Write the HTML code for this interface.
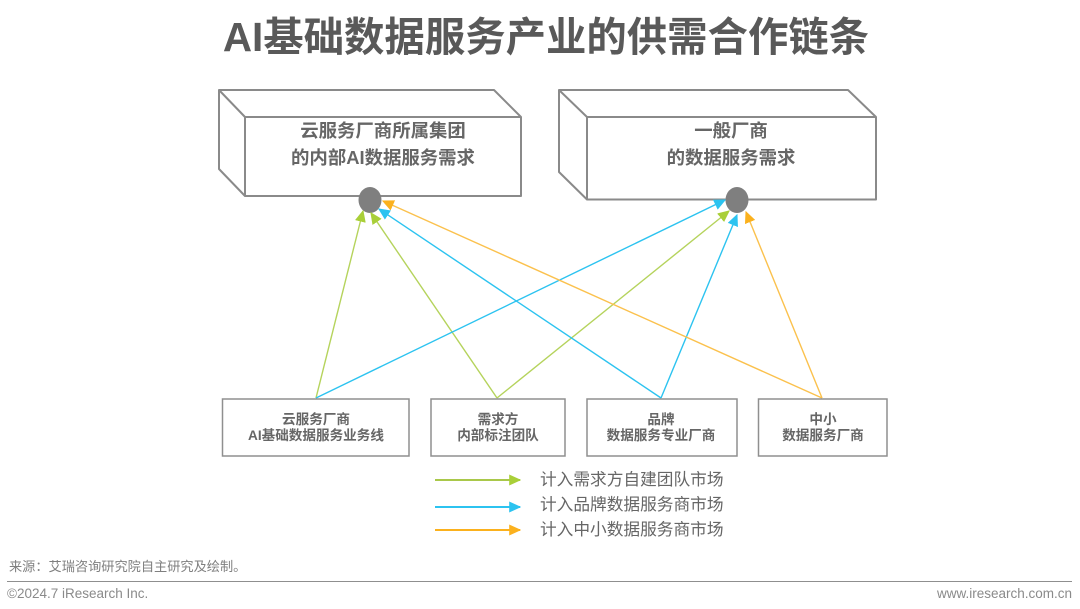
<!DOCTYPE html>
<html lang="zh"><head><meta charset="utf-8">
<style>
html,body{margin:0;padding:0;background:#fff}
body{width:1080px;height:609px;overflow:hidden;position:relative}
svg{position:absolute;left:0;top:0;filter:blur(.35px)}
text{font-family:"Liberation Sans","Noto Sans CJK SC",sans-serif}
.b{font-weight:700;fill:#666;text-anchor:middle}
</style></head><body>
<svg width="1080" height="609" viewBox="0 0 1080 609" xmlns="http://www.w3.org/2000/svg">
<defs>
<marker id="g" viewBox="0 0 10 10" refX="9" refY="5" markerWidth="12" markerHeight="11" markerUnits="userSpaceOnUse" orient="auto" preserveAspectRatio="none"><path d="M0 0L10 5L0 10Z" fill="#A9CF38"/></marker>
<marker id="c" viewBox="0 0 10 10" refX="9" refY="5" markerWidth="12" markerHeight="11" markerUnits="userSpaceOnUse" orient="auto" preserveAspectRatio="none"><path d="M0 0L10 5L0 10Z" fill="#2CC3F0"/></marker>
<marker id="o" viewBox="0 0 10 10" refX="9" refY="5" markerWidth="12" markerHeight="11" markerUnits="userSpaceOnUse" orient="auto" preserveAspectRatio="none"><path d="M0 0L10 5L0 10Z" fill="#FBB11D"/></marker>
</defs>
<text x="546" y="51" class="b" style="font-size:40.400px;fill:#595959">AI基础数据服务产业的供需合作链条</text>
<g fill="#fff" stroke="#8a8a8a" stroke-width="2" stroke-linejoin="round">
<path d="M219 90H494L521 117V196H245L219 169Z"/>
<path d="M219 90L245 117H521M245 117V196" fill="none"/>
<path d="M559 90H848L876 117V199.500H587L559 172Z"/>
<path d="M559 90L587 117H876M587 117V199.500" fill="none"/>
</g>
<text x="383" y="137" class="b" style="font-size:18.400px">云服务厂商所属集团</text>
<text x="383" y="164" class="b" style="font-size:18.400px">的内部AI数据服务需求</text>
<text x="731" y="137" class="b" style="font-size:18.400px">一般厂商</text>
<text x="731" y="164" class="b" style="font-size:18.400px">的数据服务需求</text>
<ellipse cx="370" cy="200" rx="11.500" ry="13" fill="#7f7f7f"/>
<ellipse cx="737" cy="200" rx="11.500" ry="13" fill="#7f7f7f"/>
<g fill="none" stroke-width="1.400">
<path d="M316 398L363 211" stroke="#B5D35C" marker-end="url(#g)"/>
<path d="M497 398L371 213" stroke="#B5D35C" marker-end="url(#g)"/>
<path d="M497 398L729 211" stroke="#B5D35C" marker-end="url(#g)"/>
<path d="M661 398L379 209" stroke="#2CC3F0" marker-end="url(#c)"/>
<path d="M316 398L725 200" stroke="#2CC3F0" marker-end="url(#c)"/>
<path d="M661 398L737 215" stroke="#2CC3F0" marker-end="url(#c)"/>
<path d="M822 398L383 201" stroke="#FBC14D" marker-end="url(#o)"/>
<path d="M822 398L746 212" stroke="#FBC14D" marker-end="url(#o)"/>
</g>
<g fill="#fff" stroke="#8f8f8f" stroke-width="1.500">
<rect x="222.500" y="399" width="186.500" height="57"/>
<rect x="431" y="399" width="134" height="57"/>
<rect x="587" y="399" width="150" height="57"/>
<rect x="758.500" y="399" width="128.500" height="57"/>
</g>
<g style="font-size:13.600px">
<text x="316" y="424" class="b">云服务厂商</text><text x="316" y="440" class="b">AI基础数据服务业务线</text>
<text x="498" y="424" class="b">需求方</text><text x="498" y="440" class="b">内部标注团队</text>
<text x="661" y="424" class="b">品牌</text><text x="661" y="440" class="b">数据服务专业厂商</text>
<text x="823" y="424" class="b">中小</text><text x="823" y="440" class="b">数据服务厂商</text>
</g>
<g fill="none" stroke-width="2">
<path d="M435 480H520" stroke="#A9C84A" marker-end="url(#g)"/>
<path d="M435 507H520" stroke="#2CC3F0" marker-end="url(#c)"/>
<path d="M435 530H520" stroke="#FBB11D" marker-end="url(#o)"/>
</g>
<g style="font-size:16.700px" fill="#666">
<text x="540" y="485">计入需求方自建团队市场</text>
<text x="540" y="510">计入品牌数据服务商市场</text>
<text x="540" y="535">计入中小数据服务商市场</text>
</g>
<text x="9" y="571" style="font-size:13.200px" fill="#7f7f7f">来源：艾瑞咨询研究院自主研究及绘制。</text>
<rect x="7" y="581" width="1065" height="1" fill="#8f8f8f"/>
<text x="7" y="598" style="font-size:13.500px" fill="#8a8a8a">©2024.7 iResearch Inc.</text>
<text x="1072" y="598" style="font-size:13.500px;text-anchor:end" fill="#8a8a8a">www.iresearch.com.cn</text>
</svg>
</body></html>
